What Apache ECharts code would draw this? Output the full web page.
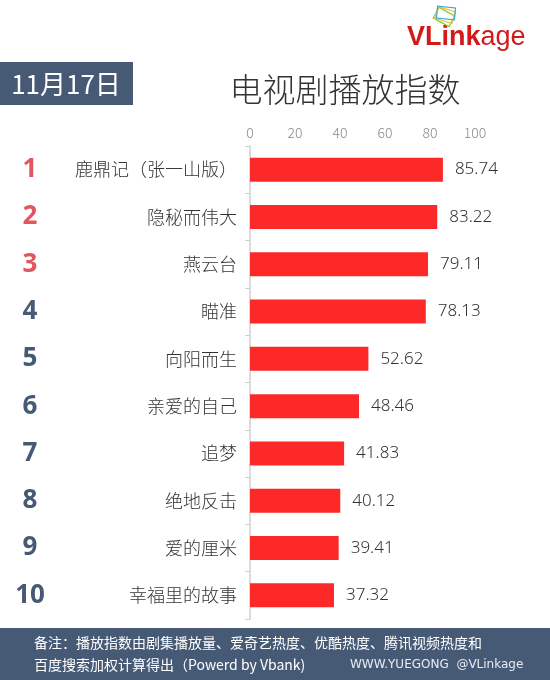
<!DOCTYPE html>
<html>
<head>
<meta charset="utf-8">
<script src="https://cdn.jsdelivr.net/npm/echarts@6/dist/echarts.min.js"></script>
<style>
  html, body { margin: 0; padding: 0; background: #fff; }
  #chart { width: 550px; height: 680px; }
</style>
</head>
<body>
<div id="chart"></div>
<script>
const chart = echarts.init(document.getElementById("chart"));

// ---- data ----
const ranks = ["1", "2", "3", "4", "5", "6", "7", "8", "9", "10"];
const shows = ["鹿鼎记（张一山版）", "隐秘而伟大", "燕云台", "瞄准", "向阳而生",
  "亲爱的自己", "追梦", "绝地反击", "爱的厘米", "幸福里的故事"];
const values = [85.74, 83.22, 79.11, 78.13, 52.62, 48.46, 41.83, 40.12, 39.41, 37.32];
const xTicks = [0, 20, 40, 60, 80, 100];

const CJK = '"Noto Sans CJK SC", "Microsoft YaHei", sans-serif';
const SLATE = "#475a75";

chart.setOption({
  backgroundColor: "#fff",
  animation: false,
  grid: { left: 250, right: 75, top: 146, bottom: 61 },
  xAxis: {
    type: "value",
    position: "top",
    min: xTicks[0],
    max: xTicks[xTicks.length - 1],
    interval: 20,
    axisLine: { show: false },
    axisTick: { show: false },
    splitLine: { show: false },
    axisLabel: { color: "#8a8a8a", fontSize: 14, fontWeight: 300, margin: 6, fontFamily: CJK }
  },
  yAxis: [
    {
      type: "category",
      inverse: true,
      data: shows,
      axisLine: { show: true, lineStyle: { color: "#cfcfcf", width: 1.5 } },
      axisTick: { show: true, length: 5, lineStyle: { color: "#cfcfcf" } },
      axisLabel: { color: "#333", fontSize: 18, fontWeight: 300, margin: 13, fontFamily: CJK }
    },
    {
      type: "category",
      inverse: true,
      position: "left",
      offset: 220,
      data: ranks,
      axisLine: { show: false },
      axisTick: { show: false },
      axisLabel: {
        margin: 0,
        align: "center",
        fontSize: 26,
        fontWeight: "bold",
        fontFamily: '"Open Sans", "Noto Sans", sans-serif',
        color: (v) => (Number(v) <= 3 ? "#e2575f" : SLATE)
      }
    }
  ],
  series: [
    {
      type: "bar",
      data: values,
      barWidth: 24,
      itemStyle: { color: "#fd2828" },
      label: {
        show: true,
        position: "right",
        distance: 12,
        color: "#333",
        fontSize: 17,
        fontWeight: 300,
        fontFamily: '"Noto Sans", "Open Sans", sans-serif',
        formatter: (p) => p.value.toFixed(2)
      }
    }
  ],
  graphic: [
    // date badge
    { type: "rect", shape: { x: 0, y: 62, width: 133, height: 43 }, style: { fill: SLATE } },
    {
      type: "text", x: 66, y: 84,
      style: { text: "11月17日", fill: "#fff", font: "26px " + CJK, align: "center", verticalAlign: "middle" }
    },
    // title
    {
      type: "text", x: 345, y: 89,
      style: { text: "电视剧播放指数", fill: "#333", font: "300 33px " + CJK, align: "center", verticalAlign: "middle" }
    },
    // logo
    {
      type: "text", x: 407, y: 38,
      style: {
        text: "{b|VLink}{n|age}",
        verticalAlign: "middle",
        rich: {
          b: { fill: "#d21a1a", font: "bold 27px Arial, 'Liberation Sans', sans-serif" },
          n: { fill: "#d21a1a", font: "27px Arial, 'Liberation Sans', sans-serif" }
        }
      }
    },
    { type: "rect", x: 444, y: 17, rotation: -0.5, shape: { x: -9, y: -6, width: 18, height: 12 }, style: { fill: "none", stroke: "#8cc63f", lineWidth: 1.2 } },
    { type: "rect", x: 445, y: 15, rotation: -0.3, shape: { x: -9, y: -6, width: 18, height: 12 }, style: { fill: "none", stroke: "#f2c12e", lineWidth: 1.2 } },
    { type: "rect", x: 446, y: 13, rotation: -0.1, shape: { x: -9, y: -6, width: 18, height: 12 }, style: { fill: "none", stroke: "#3aa8d8", lineWidth: 1.2 } },
    // footer
    { type: "rect", shape: { x: 0, y: 628, width: 550, height: 52 }, style: { fill: SLATE } },
    {
      type: "text", x: 34, y: 643,
      style: { text: "备注：播放指数由剧集播放量、爱奇艺热度、优酷热度、腾讯视频热度和", fill: "#fff", font: "14px " + CJK, verticalAlign: "middle" }
    },
    {
      type: "text", x: 34, y: 665,
      style: { text: "百度搜索加权计算得出（Powerd by Vbank)", fill: "#fff", font: "14px " + CJK, verticalAlign: "middle" }
    },
    {
      type: "text", x: 350, y: 665,
      style: { text: "WWW.YUEGONG  @VLinkage", fill: "#e8ecf2", font: "12px 'DejaVu Sans', sans-serif", verticalAlign: "middle" }
    }
  ]
});
</script>
</body>
</html>
